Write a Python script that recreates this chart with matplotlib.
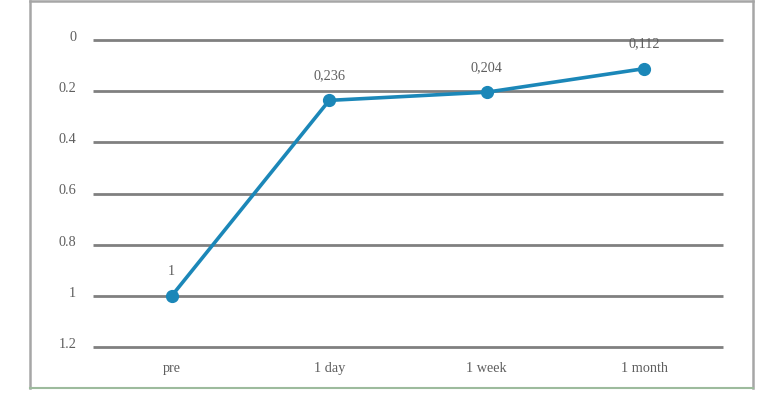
import matplotlib
matplotlib.use("Agg")
import matplotlib.pyplot as plt
import matplotlib.transforms as mtransforms
from matplotlib.lines import Line2D

categories = ["pre", "1 day", "1 week", "1 month"]
values = [1, 0.236, 0.204, 0.112]
value_labels = ["1", "0,236", "0,204", "0,112"]
y_ticks = [0, 0.2, 0.4, 0.6, 0.8, 1, 1.2]
y_tick_labels = ["0", "0.2", "0.4", "0.6", "0.8", "1", "1.2"]

W, H = 769, 399
fig = plt.figure(figsize=(W / 100, H / 100), dpi=100)
fig.patch.set_facecolor("white")

font = ["Liberation Serif", "DejaVu Serif"]
txt_color = "#5f5f5f"

# outer border
fig.add_artist(Line2D([29.5 / W, 29.5 / W], [1 - 388 / H, 1 - 1 / H], color="#a6a6a6", lw=1.8, transform=fig.transFigure))
fig.add_artist(Line2D([29.5 / W, 753 / W], [1 - 1 / H, 1 - 1 / H], color="#a6a6a6", lw=1.8, transform=fig.transFigure))
fig.add_artist(Line2D([753 / W, 753 / W], [1 - 388 / H, 1 - 1 / H], color="#a6a6a6", lw=1.8, transform=fig.transFigure))
fig.add_artist(Line2D([29.5 / W, 753 / W], [1 - 388 / H, 1 - 388 / H], color="#9dbb9d", lw=1.5, transform=fig.transFigure))

ax = fig.add_axes([93 / W, 1 - 347 / H, (723 - 93) / W, (347 - 40) / H])
ax.set_facecolor("none")
x = list(range(len(categories)))
ax.set_xlim(-0.5, len(categories) - 0.5)
ax.set_ylim(1.2, 0)

for t in y_ticks:
    ax.axhline(t, color="#808080", lw=2.0, zorder=1, clip_on=False, solid_capstyle="butt")

ax.plot(x, values, color="#1b87b8", lw=2.6, marker="o", markersize=8.5, zorder=3, clip_on=False)

for xi, v, lab in zip(x, values, value_labels):
    ax.annotate(lab, (xi, v), xytext=(0, 13), textcoords="offset points", ha="center", va="bottom",
                fontsize=10.3, color=txt_color, family=font)

ax.set_xticks(x)
ax.set_xticklabels(categories, family=font, fontsize=10.3, color=txt_color)
ax.set_yticks(y_ticks)
ax.set_yticklabels(y_tick_labels, family=font, fontsize=10.3, color=txt_color)
ax.tick_params(axis="both", length=0)
ax.tick_params(axis="x", pad=11)
ax.tick_params(axis="y", pad=12)
offset = mtransforms.ScaledTranslation(0, 4 / 100, fig.dpi_scale_trans)
for lbl in ax.get_yticklabels():
    lbl.set_transform(lbl.get_transform() + offset)
for s in ax.spines.values():
    s.set_visible(False)

fig.savefig("out.png", dpi=100, facecolor="white")
